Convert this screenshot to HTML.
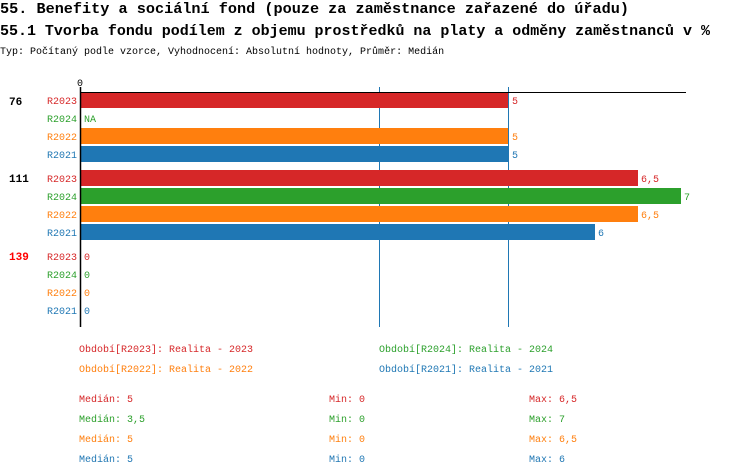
<!DOCTYPE html>
<html><head><meta charset="utf-8"><style>
body{margin:0;background:#fff;}
svg{display:block;font-family:"Liberation Mono",monospace;}
</style></head><body>
<svg width="750" height="476" xmlns="http://www.w3.org/2000/svg">
<text x="0" y="13" font-size="15" font-weight="bold" textLength="629" lengthAdjust="spacingAndGlyphs">55. Benefity a sociální fond (pouze za zaměstnance zařazené do úřadu)</text>
<text x="0" y="35" font-size="15" font-weight="bold" textLength="710" lengthAdjust="spacingAndGlyphs">55.1 Tvorba fondu podílem z objemu prostředků na platy a odměny zaměstnanců v %</text>
<text x="0" y="54" font-size="10">Typ: Počítaný podle vzorce, Vyhodnocení: Absolutní hodnoty, Průměr: Medián</text>
<text x="77" y="86" font-size="10">0</text>
<line x1="379.5" y1="87" x2="379.5" y2="327" stroke="#1f77b4" stroke-width="1"/>
<line x1="508.5" y1="87" x2="508.5" y2="327" stroke="#1f77b4" stroke-width="1"/>
<g>
<rect x="81" y="93" width="427" height="15" fill="#d62728"/>
<rect x="81" y="128" width="427" height="16" fill="#ff7f0e"/>
<rect x="81" y="146" width="427" height="16" fill="#1f77b4"/>
<rect x="81" y="170" width="557" height="16" fill="#d62728"/>
<rect x="81" y="188" width="600" height="16" fill="#2ca02c"/>
<rect x="81" y="206" width="557" height="16" fill="#ff7f0e"/>
<rect x="81" y="224" width="514" height="16" fill="#1f77b4"/>
</g>
<line x1="80" y1="92.5" x2="686" y2="92.5" stroke="#000" stroke-width="1"/>
<line x1="80.5" y1="87" x2="80.5" y2="327" stroke="#000" stroke-width="1.5"/>
<g font-size="11" font-weight="bold">
<text x="9" y="105">76</text>
<text x="9" y="182">111</text>
<text x="9" y="260" fill="#ff0000">139</text>
</g>
<g font-size="10">
<text x="47" y="104" fill="#d62728">R2023</text>
<text x="47" y="122" fill="#2ca02c">R2024</text>
<text x="47" y="140" fill="#ff7f0e">R2022</text>
<text x="47" y="158" fill="#1f77b4">R2021</text>
<text x="47" y="182" fill="#d62728">R2023</text>
<text x="47" y="200" fill="#2ca02c">R2024</text>
<text x="47" y="218" fill="#ff7f0e">R2022</text>
<text x="47" y="236" fill="#1f77b4">R2021</text>
<text x="47" y="260" fill="#d62728">R2023</text>
<text x="47" y="278" fill="#2ca02c">R2024</text>
<text x="47" y="296" fill="#ff7f0e">R2022</text>
<text x="47" y="314" fill="#1f77b4">R2021</text>
<text x="512" y="104" fill="#d62728">5</text>
<text x="84" y="122" fill="#2ca02c">NA</text>
<text x="512" y="140" fill="#ff7f0e">5</text>
<text x="512" y="158" fill="#1f77b4">5</text>
<text x="641" y="182" fill="#d62728">6,5</text>
<text x="684" y="200" fill="#2ca02c">7</text>
<text x="641" y="218" fill="#ff7f0e">6,5</text>
<text x="598" y="236" fill="#1f77b4">6</text>
<text x="84" y="260" fill="#d62728">0</text>
<text x="84" y="278" fill="#2ca02c">0</text>
<text x="84" y="296" fill="#ff7f0e">0</text>
<text x="84" y="314" fill="#1f77b4">0</text>
<text x="79" y="352" fill="#d62728">Období[R2023]: Realita - 2023</text>
<text x="379" y="352" fill="#2ca02c">Období[R2024]: Realita - 2024</text>
<text x="79" y="372" fill="#ff7f0e">Období[R2022]: Realita - 2022</text>
<text x="379" y="372" fill="#1f77b4">Období[R2021]: Realita - 2021</text>
<text x="79" y="402" fill="#d62728">Medián: 5</text>
<text x="329" y="402" fill="#d62728">Min: 0</text>
<text x="529" y="402" fill="#d62728">Max: 6,5</text>
<text x="79" y="422" fill="#2ca02c">Medián: 3,5</text>
<text x="329" y="422" fill="#2ca02c">Min: 0</text>
<text x="529" y="422" fill="#2ca02c">Max: 7</text>
<text x="79" y="442" fill="#ff7f0e">Medián: 5</text>
<text x="329" y="442" fill="#ff7f0e">Min: 0</text>
<text x="529" y="442" fill="#ff7f0e">Max: 6,5</text>
<text x="79" y="462" fill="#1f77b4">Medián: 5</text>
<text x="329" y="462" fill="#1f77b4">Min: 0</text>
<text x="529" y="462" fill="#1f77b4">Max: 6</text>
</g>
</svg>
</body></html>
